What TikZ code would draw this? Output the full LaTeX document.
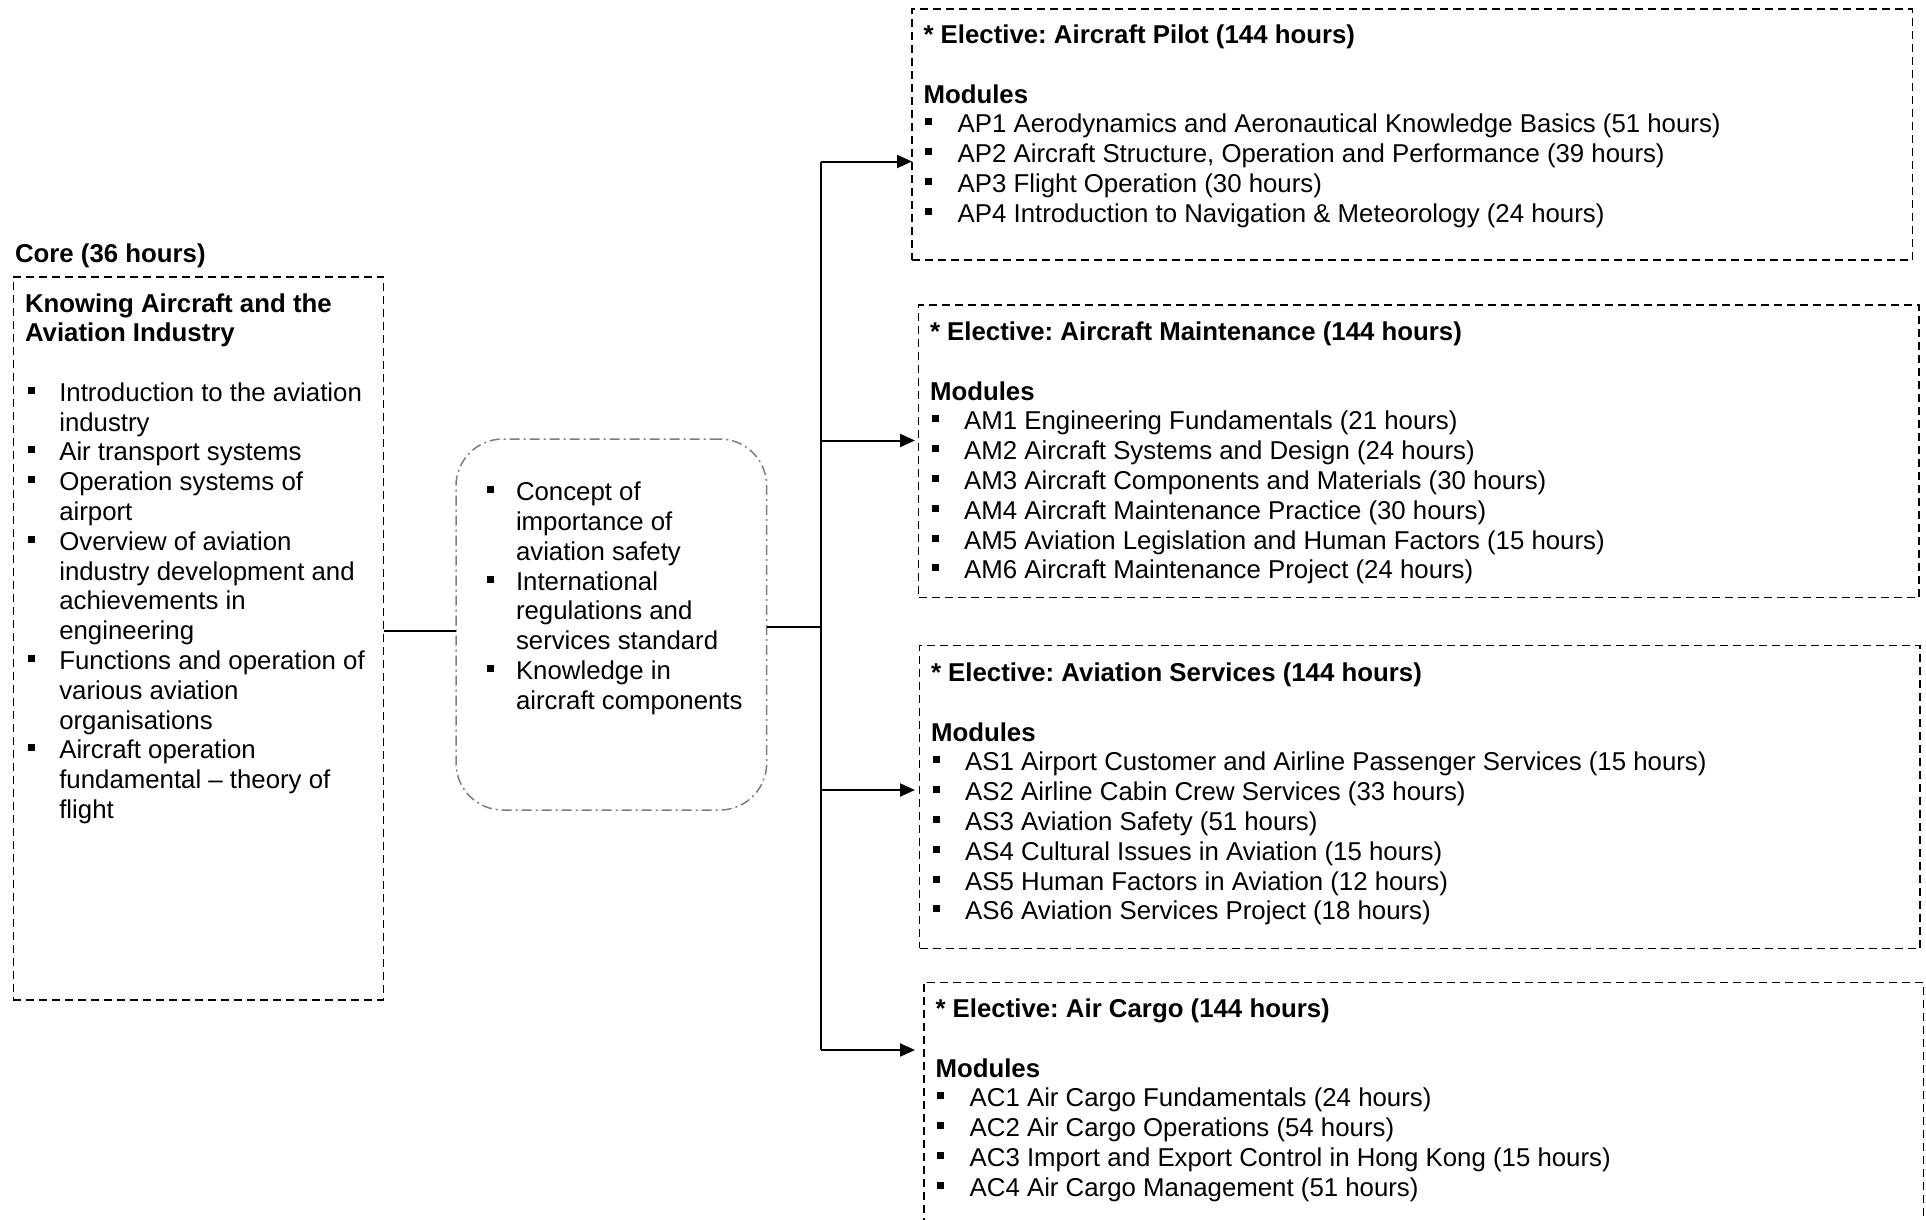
\documentclass[tikz,border=0pt]{standalone}
\usepackage{fontspec}
\setmainfont{Liberation Sans}
\usetikzlibrary{arrows.meta}
\definecolor{midgray}{RGB}{125,125,125}
\newcommand\sqb{\rule[7.5pt]{7pt}{7pt}}
\newcommand\ebul{\makebox[34.2pt][l]{\hspace*{1.5pt}\sqb}}
\newcommand\cbul{\makebox[31.3pt][l]{\sqb}}
\newcommand\cind{\hspace*{31.3pt}}
\newcommand\mbul{\makebox[29pt][l]{\sqb}}
\newcommand\mind{\hspace*{29pt}}
\frenchspacing
\begin{document}
\frenchspacing
\begin{tikzpicture}[x=1pt,y=-1pt,
  txt/.style={inner sep=0pt, outer sep=0pt, anchor=base west, font=\fontsize{25.8}{29.8}\selectfont\frenchspacing},
  dbox/.style={draw=black, line width=1.6pt, dash pattern=on 8pt off 5pt, inner sep=0pt, outer sep=0pt, anchor=north west},
  midbox/.style={draw=midgray, line width=1.5pt, dash pattern=on 10pt off 4pt on 2pt off 4pt, rounded corners=47pt, inner sep=0pt, outer sep=0pt, anchor=north west},
  conn/.style={line width=2pt, draw=black},
  arr/.style={conn, -{Triangle[length=15pt,width=13pt]}}]
\useasboundingbox (0,0) rectangle (1926,1219);
\clip (0,0) rectangle (1926,1219);

% ---- core ----
\node[txt] (coretitle) at (15,262) {\bfseries Core (36 hours)};
\node[dbox, minimum width=370.2pt, minimum height=723.3pt] (core) at (13.3,276.7) {};
\node[txt] (corehead) at (25,312) {\begin{tabular}[t]{@{}l@{}}\bfseries Knowing Aircraft and the\\ \bfseries Aviation Industry\end{tabular}};
\node[txt] (corelist) at (28,401.3) {\begin{tabular}[t]{@{}l@{}}
\cbul Introduction to the aviation\\
\cind industry\\
\cbul Air transport systems\\
\cbul Operation systems of\\
\cind airport\\
\cbul Overview of aviation\\
\cind industry development and\\
\cind achievements in\\
\cind engineering\\
\cbul Functions and operation of\\
\cind various aviation\\
\cind organisations\\
\cbul Aircraft operation\\
\cind fundamental -- theory of\\
\cind flight
\end{tabular}};

% ---- middle ----
\node[midbox, minimum width=310.7pt, minimum height=371pt] (mid) at (456,439) {};
\node[txt] (midlist) at (487,500.7) {\begin{tabular}[t]{@{}l@{}}
\mbul Concept of\\
\mind importance of\\
\mind aviation safety\\
\mbul International\\
\mind regulations and\\
\mind services standard\\
\mbul Knowledge in\\
\mind aircraft components
\end{tabular}};

% ---- electives ----
\node[dbox, minimum width=1000.5pt, minimum height=251pt] (ap) at (912,9) {};
\node[txt] (aptext) at (923.5,43.5) {\begin{tabular}[t]{@{}l@{}}
\bfseries * Elective: Aircraft Pilot (144 hours)\\
\\
\bfseries Modules\\
\ebul AP1 Aerodynamics and Aeronautical Knowledge Basics (51 hours)\\
\ebul AP2 Aircraft Structure, Operation and Performance (39 hours)\\
\ebul AP3 Flight Operation (30 hours)\\
\ebul AP4 Introduction to Navigation \& Meteorology (24 hours)
\end{tabular}};

\node[dbox, minimum width=1000.3pt, minimum height=292.5pt] (am) at (918.5,305) {};
\node[txt] (amtext) at (930,340.5) {\begin{tabular}[t]{@{}l@{}}
\bfseries * Elective: Aircraft Maintenance (144 hours)\\
\\
\bfseries Modules\\
\ebul AM1 Engineering Fundamentals (21 hours)\\
\ebul AM2 Aircraft Systems and Design (24 hours)\\
\ebul AM3 Aircraft Components and Materials (30 hours)\\
\ebul AM4 Aircraft Maintenance Practice (30 hours)\\
\ebul AM5 Aviation Legislation and Human Factors (15 hours)\\
\ebul AM6 Aircraft Maintenance Project (24 hours)
\end{tabular}};

\node[dbox, minimum width=1000.5pt, minimum height=302.8pt] (as) at (919.5,645.5) {};
\node[txt] (astext) at (931,681.5) {\begin{tabular}[t]{@{}l@{}}
\bfseries * Elective: Aviation Services (144 hours)\\
\\
\bfseries Modules\\
\ebul AS1 Airport Customer and Airline Passenger Services (15 hours)\\
\ebul AS2 Airline Cabin Crew Services (33 hours)\\
\ebul AS3 Aviation Safety (51 hours)\\
\ebul AS4 Cultural Issues in Aviation (15 hours)\\
\ebul AS5 Human Factors in Aviation (12 hours)\\
\ebul AS6 Aviation Services Project (18 hours)
\end{tabular}};

\node[dbox, minimum width=999.5pt, minimum height=300pt] (ac) at (924,982.3) {};
\node[txt] (actext) at (935.5,1017.5) {\begin{tabular}[t]{@{}l@{}}
\bfseries * Elective: Air Cargo (144 hours)\\
\\
\bfseries Modules\\
\ebul AC1 Air Cargo Fundamentals (24 hours)\\
\ebul AC2 Air Cargo Operations (54 hours)\\
\ebul AC3 Import and Export Control in Hong Kong (15 hours)\\
\ebul AC4 Air Cargo Management (51 hours)
\end{tabular}};

% ---- connectors ----
\coordinate (lc) at (0,630.5);
\coordinate (b1) at (820.7,161.5);
\coordinate (b2) at (820.7,440.5);
\coordinate (b3) at (820.7,790);
\coordinate (b4) at (820.7,1050);
\coordinate (tr) at (820.7,627.3);
\draw[conn] (core.east |- lc) -- (mid.west |- lc);
\draw[conn] (mid.east |- tr) -- (tr);
\draw[conn] (b1) -- (b4);
\draw[arr] (b1) -- (ap.west |- b1);
\draw[arr, shorten >=3.5pt] (b2) -- (am.west |- b2);
\draw[arr, shorten >=4.5pt] (b3) -- (as.west |- b3);
\draw[arr, shorten >=9pt] (b4) -- (ac.west |- b4);
\end{tikzpicture}
\end{document}
